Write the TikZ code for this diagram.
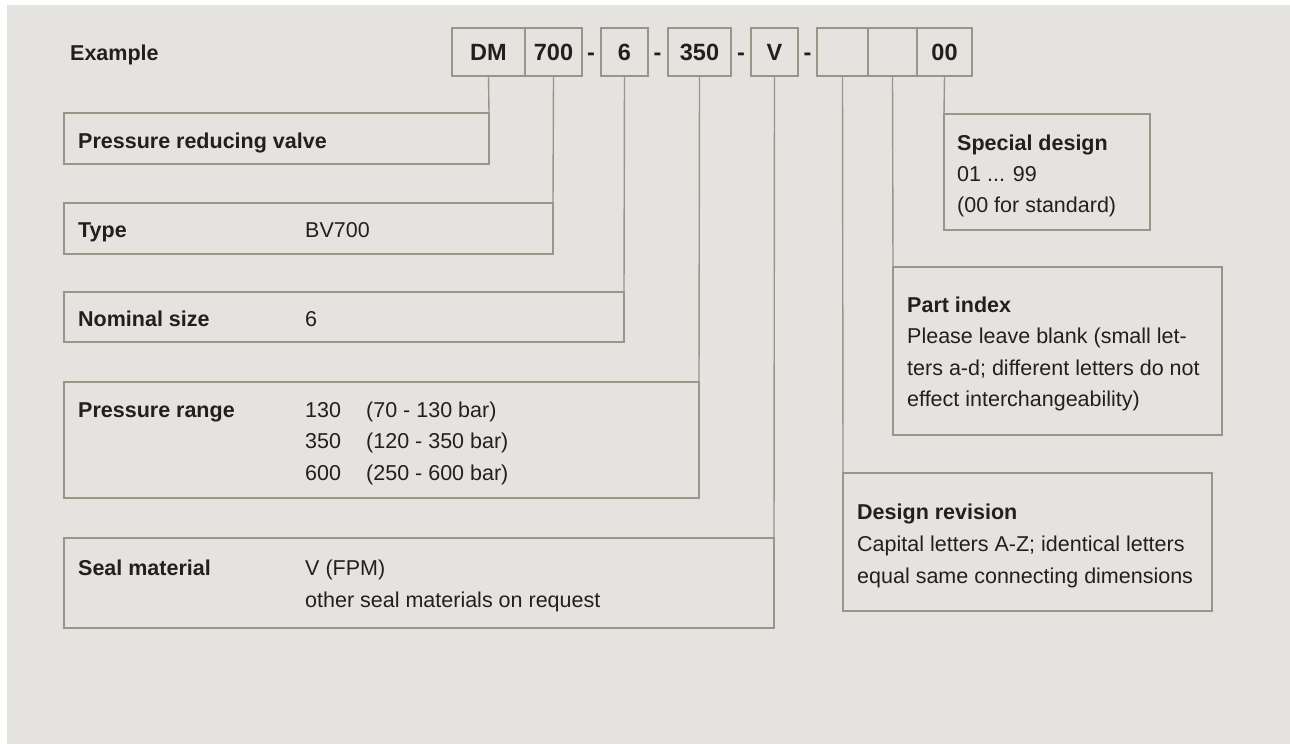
\documentclass[tikz,border=0pt]{standalone}
\usepackage{fontspec}
\setmainfont{Liberation Sans}
\definecolor{bgc}{HTML}{E5E3DF}
\definecolor{lnc}{HTML}{9C9486}
\definecolor{txc}{HTML}{231F20}
\begin{document}
\begin{tikzpicture}[x=1pt,y=-1pt,
  box/.style={draw=lnc, line width=1.4pt, rectangle, inner sep=0pt, outer sep=0pt, anchor=north west},
  codebox/.style={box, minimum height=48pt, font=\fontsize{23.5}{28}\selectfont\bfseries, text=txc},
  conn/.style={draw=lnc, line width=1.4pt},
  dashtxt/.style={font=\fontsize{23.5}{28}\selectfont\bfseries, text=txc, anchor=base, inner sep=0pt},
  lbl/.style={font=\fontsize{21.5}{31}\selectfont\bfseries, text=txc, anchor=base west, inner sep=0pt},
  val/.style={font=\fontsize{21.5}{31}\selectfont, text=txc, anchor=base west, inner sep=0pt},
]
\useasboundingbox (0,0) rectangle (1290,744);
\fill[white] (0,0) rectangle (1290,744);
\fill[bgc] (7,5) rectangle (1290,744);

% header
\node[lbl] (example) at (70,60) {Example};
\node[codebox, minimum width=73pt] (dm) at (452,28) {DM};
\node[codebox, minimum width=57pt] (c700) at (525,28) {700};
\node[dashtxt] (d1) at (591,60) {-};
\node[codebox, minimum width=47pt] (c6) at (601,28) {6};
\node[dashtxt] (d2) at (657.5,60) {-};
\node[codebox, minimum width=63pt] (c350) at (668,28) {350};
\node[dashtxt] (d3) at (741,60) {-};
\node[codebox, minimum width=47pt] (cv) at (751,28) {V};
\node[dashtxt] (d4) at (807.5,60) {-};
\node[codebox, minimum width=51pt] (cb1) at (817,28) {};
\node[codebox, minimum width=49pt] (cb2) at (868,28) {};
\node[codebox, minimum width=55pt] (c00) at (917,28) {00};

% left boxes
\node[box, minimum width=425pt, minimum height=51pt] (prv) at (64,113) {};
\node[lbl] (prvl) at (78,148) {Pressure reducing valve};

\node[box, minimum width=489pt, minimum height=51pt] (type) at (64,203) {};
\node[lbl] (typel) at (78,237) {Type};
\node[val] (typev) at (305,237) {BV700};

\node[box, minimum width=560pt, minimum height=50pt] (nom) at (64,292) {};
\node[lbl] (noml) at (78,326) {Nominal size};
\node[val] (nomv) at (305,326) {6};

\node[box, minimum width=635pt, minimum height=116pt] (pr) at (64,382) {};
\node[lbl] (prl) at (78,417) {Pressure range};
\node[val] (pra) at (305,417) {130};
\node[val] (prb) at (366,417) {(70 - 130 bar)};
\node[val] (prc) at (305,448.5) {350};
\node[val] (prd) at (366,448.5) {(120 - 350 bar)};
\node[val] (pre) at (305,480) {600};
\node[val] (prf) at (366,480) {(250 - 600 bar)};

\node[box, minimum width=710pt, minimum height=90pt] (seal) at (64,538) {};
\node[lbl] (seall) at (78,575) {Seal material};
\node[val] (seala) at (305,575) {V (FPM)};
\node[val] (sealb) at (305,607) {other seal materials on request};

% right boxes
\node[box, minimum width=206pt, minimum height=116pt] (spec) at (944,114) {};
\node[lbl] (specl) at (957,150) {Special design};
\node[val] (speca) at (957,181) {01 ... 99};
\node[val] (specb) at (957,212) {(00 for standard)};

\node[box, minimum width=329pt, minimum height=168pt] (part) at (893,267) {};
\node[lbl] (partl) at (907,312) {Part index};
\node[val] (parta) at (907,343.5) {Please leave blank (small let-};
\node[val] (partb) at (907,375) {ters a-d; different letters do not};
\node[val] (partc) at (907,406.5) {effect interchangeability)};

\node[box, minimum width=369pt, minimum height=138pt] (rev) at (843,473) {};
\node[lbl] (revl) at (857,519) {Design revision};
\node[val] (reva) at (857,551) {Capital letters A-Z; identical letters};
\node[val] (revb) at (857,583) {equal same connecting dimensions};

% connectors
\draw[conn] (dm.south) -- (prv.north east);
\draw[conn] (c700.south) -- (type.north east);
\draw[conn] (c6.south) -- (nom.north east);
\draw[conn] (c350.south) -- (pr.north east);
\draw[conn] (cv.south) -- (seal.north east);
\draw[conn] (cb1.south) -- (rev.north west);
\draw[conn] (cb2.south) -- (part.north west);
\draw[conn] (c00.south) -- (spec.north west);
\end{tikzpicture}
\end{document}
